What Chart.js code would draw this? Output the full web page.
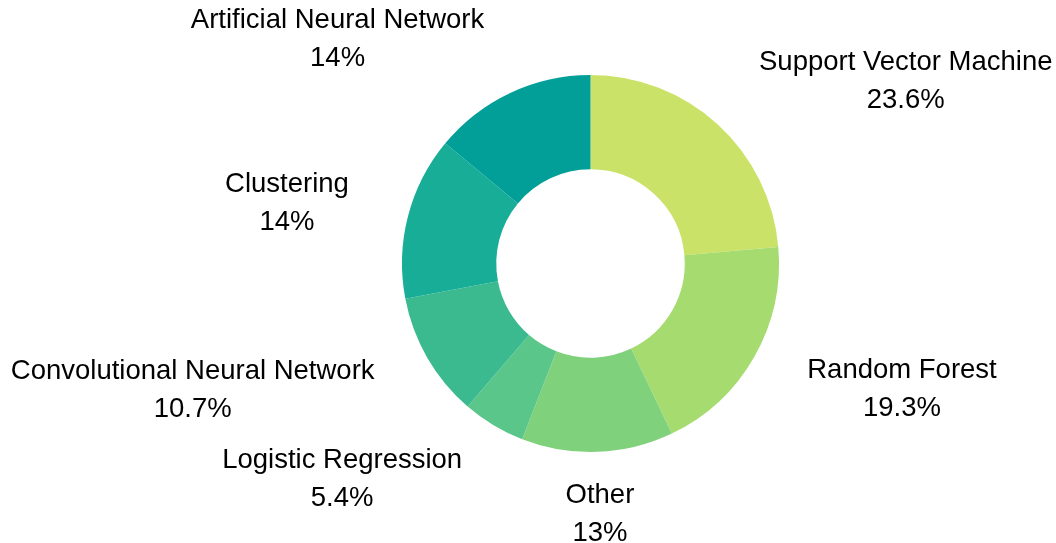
<!DOCTYPE html>
<html>
<head>
<meta charset="utf-8">
<script src="https://cdn.jsdelivr.net/npm/chart.js@4/dist/chart.umd.min.js"></script>
<style>
  html, body { margin: 0; padding: 0; background: #fff; }
  #wrap { width: 1056px; height: 543px; }
</style>
</head>
<body>
<div id="wrap"><canvas id="c" width="1056" height="543"></canvas></div>
<script>
"use strict";
const LABELS = ["Support Vector Machine", "Random Forest", "Other", "Logistic Regression",
  "Convolutional Neural Network", "Clustering", "Artificial Neural Network"];
const SHARES = [23.6, 19.3, 13, 5.4, 10.7, 14, 14];
const COLORS = ["#cbe268", "#a5db6f", "#80d17b", "#5bc689", "#3bba8f", "#17ad96", "#029f99"];

// Two-line outside labels (name + percent), anchored away from the ring.
const outsideLabels = {
  id: "outsideLabels",
  afterDatasetsDraw(chart) {
    const ctx = chart.ctx;
    const meta = chart.getDatasetMeta(0);
    ctx.save();
    ctx.font = "27.5px 'Liberation Sans', Arial, sans-serif";
    ctx.fillStyle = "#000";
    ctx.textBaseline = "middle";
    meta.data.forEach((arc, i) => {
      const p = arc.getProps(["x", "y", "startAngle", "endAngle", "outerRadius"], true);
      const mid = (p.startAngle + p.endAngle) / 2;
      const r = p.outerRadius + 61;
      const px = p.x + Math.cos(mid) * r;
      const py = p.y + Math.sin(mid) * r;
      const c = Math.cos(mid);
      const lines = [LABELS[i], SHARES[i] + "%"];
      const w = Math.max(...lines.map(t => ctx.measureText(t).width));
      let cx = px;
      if (c > 0.3) cx = px + w / 2;
      else if (c < -0.3) cx = px - w / 2;
      ctx.textAlign = "center";
      ctx.fillText(lines[0], cx, py - 17);
      ctx.fillText(lines[1], cx, py + 21);
    });
    ctx.restore();
  }
};

new Chart(document.getElementById("c").getContext("2d"), {
  type: "doughnut",
  data: { labels: LABELS, datasets: [{ data: SHARES, backgroundColor: COLORS, borderWidth: 0 }] },
  options: {
    responsive: false, animation: false, cutout: "50%",
    layout: { padding: { left: 125, right: 0, top: 75, bottom: 91 } },
    plugins: { legend: { display: false }, tooltip: { enabled: false } }
  },
  plugins: [outsideLabels]
});
</script>
</body>
</html>
